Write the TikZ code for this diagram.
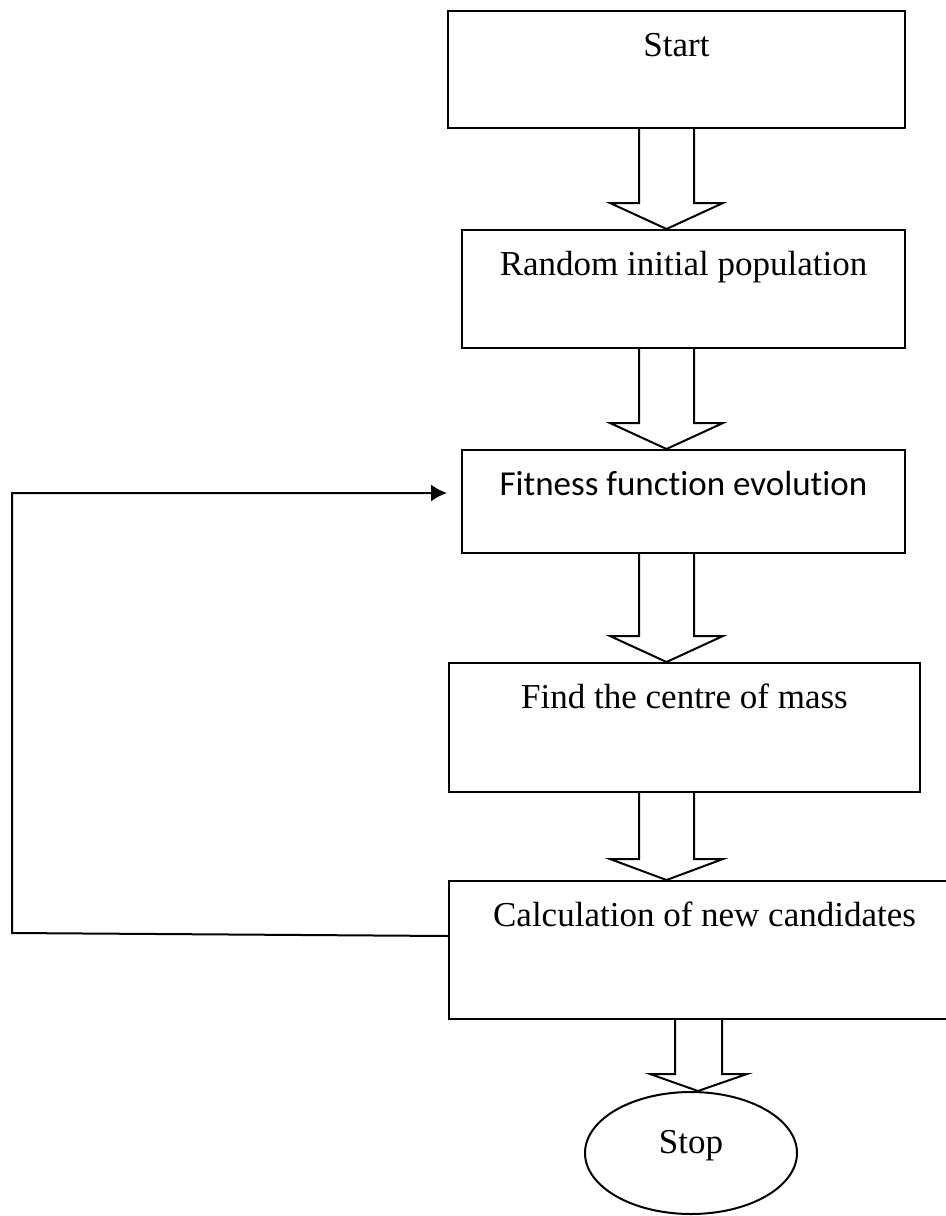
\documentclass[tikz,border=0pt]{standalone}
\usepackage{fontspec}
\setmainfont{Liberation Serif}
\newfontfamily\calibri[Ligatures=NoCommon]{Carlito}
\usetikzlibrary{calc,shapes.geometric,arrows.meta}
\tikzset{>={Latex[length=8pt,width=8.5pt]}}

\begin{document}
\begin{tikzpicture}[x=0.5pt, y=-0.5pt, line width=1pt,
		box/.style={draw, rectangle, inner sep=0pt},
		boxtext/.style={anchor=base, inner sep=0pt, font=\fontsize{17.5}{21}\selectfont}]
		\useasboundingbox (0,0) rectangle (946,1216);
		
		% Boxes
		\node (start) [box, minimum width=228.5pt, minimum height=58.5pt] at (676.5,69.5) {};
		\node (init) [box, minimum width=221.5pt, minimum height=59pt] at (683.5,289) {};
		\node (fit) [box, minimum width=221.5pt, minimum height=51.5pt] at (683.5,501.5) {};
		\node (centre) [box, minimum width=235.5pt, minimum height=64.5pt] at (684.5,727.5) {};
		\node (calc) [box, minimum width=255.5pt, minimum height=69pt] at (704.5,950) {};
		\node (stop) [draw, ellipse, inner sep=0pt, minimum width=106pt, minimum height=61pt] at (691,1153) {};
		
		% Texts
		\node [boxtext] at ([yshift=-23pt]start.north) {Start};
		\node [boxtext] at ([yshift=-23pt]init.north) {Random initial population};
		\node [boxtext, font=\calibri\fontsize{17.5}{21}\selectfont] at ([yshift=-23pt]fit.north) {Fitness function evolution};
		\node [boxtext] at ([yshift=-23pt]centre.north) {Find the centre of mass};
		\node [boxtext] at ([yshift=-23pt]calc.north) {Calculation of new candidates};
		\node [boxtext] at (stop.center) {Stop};
		
		% Block arrows
		\foreach \a/\b/\h in {start/init/26, init/fit/26, fit/centre/26, centre/calc/21}
			\draw (639,0 |- \a.south) -- ($(639,0 |- \b.north)+(0,-\h)$) -- ++(-29,0) -- (666.5,0 |- \b.north)
				-- ($(723,0 |- \b.north)+(0,-\h)$) -- ++(-29,0) -- (694,0 |- \a.south);
		\draw (675,0 |- calc.south) -- ($(675,0 |- stop.north)+(0,-17)$) -- ++(-25,0) -- (698,0 |- stop.north)
			-- ($(747,0 |- stop.north)+(0,-17)$) -- ++(-25,0) -- (722,0 |- calc.south);
		
		% Loop back
		\coordinate (back) at (12,933);
		\draw[->] ([yshift=7pt]calc.west) -- (back) -- (12,493) -- ([xshift=-7pt, yshift=4.25pt]fit.west);
	\end{tikzpicture}
\end{document}
